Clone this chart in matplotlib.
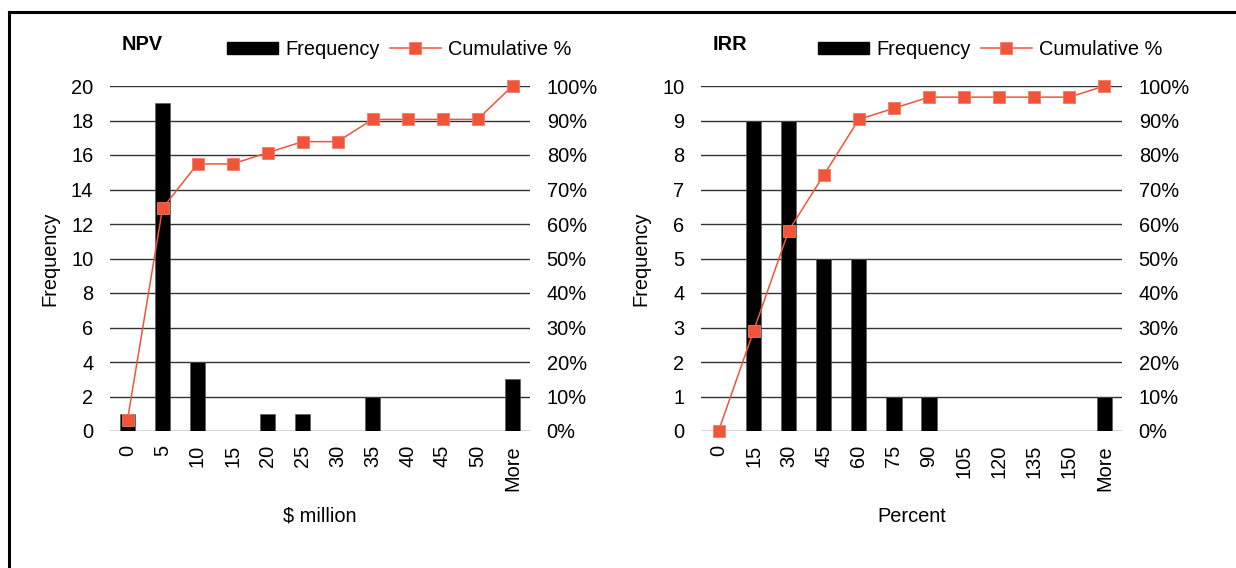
import numpy as np
import matplotlib
matplotlib.use("Agg")
import matplotlib.pyplot as plt
from matplotlib.lines import Line2D
from matplotlib.patches import Patch
from matplotlib.ticker import PercentFormatter, MultipleLocator

plt.rcParams['font.family'] = ['Liberation Sans', 'DejaVu Sans']
plt.rcParams['font.size'] = 14.4

# histogram bins and counts
npv_bins = ['0', '5', '10', '15', '20', '25', '30', '35', '40', '45', '50', 'More']
npv_freq = [1, 19, 4, 0, 1, 1, 0, 2, 0, 0, 0, 3]

irr_bins = ['0', '15', '30', '45', '60', '75', '90', '105', '120', '135', '150', 'More']
irr_freq = [0, 9, 9, 5, 5, 1, 1, 0, 0, 0, 0, 1]

BAR = 'black'
LINE = '#F0553A'
GRID = '#333333'

W, H = 1236, 568
fig = plt.figure(figsize=(W / 100, H / 100), dpi=100)

# outer border (top and left edges only)
fig.add_artist(Line2D([9 / W, 9 / W], [0, 1 - 12 / H], color='black', lw=2.2))
fig.add_artist(Line2D([9 / W, 1], [1 - 12 / H, 1 - 12 / H], color='black', lw=2.2))


def pareto(rect, bins, freq, ymax, ystep, title, xlabel):
    ax = fig.add_axes(rect)
    x = np.arange(len(bins))
    cum = np.cumsum(freq) / np.sum(freq)

    ax.bar(x, freq, width=0.43, color=BAR, edgecolor='#555555', linewidth=0.4, zorder=2)
    ax.set_xlim(-0.5, len(bins) - 0.5)
    ax.set_ylim(0, ymax)
    ax.yaxis.set_major_locator(MultipleLocator(ystep))
    ax.grid(axis='y', color=GRID, lw=1.0)
    ax.set_axisbelow(True)
    for s in ax.spines.values():
        s.set_visible(False)
    ax.set_xticks(x)
    ax.set_xticklabels(bins, rotation=90, va='top', ha='center')
    ax.tick_params(axis='x', length=0, pad=10)
    ax.tick_params(axis='y', length=0, pad=12)
    ax.set_ylabel('Frequency')
    ax.yaxis.set_label_coords(-0.121, 0.5)
    ax.set_xlabel(xlabel)
    ax.xaxis.set_label_coords(0.5, -0.220)

    ax2 = ax.twinx()
    ax2.plot(x, cum, color=LINE, lw=1.1, marker='s', markersize=8.5,
             markeredgecolor='#F47A63', markeredgewidth=0.6, zorder=3, clip_on=False)
    ax2.set_ylim(0, 1)
    ax2.yaxis.set_major_locator(MultipleLocator(0.1))
    ax2.yaxis.set_major_formatter(PercentFormatter(1.0, decimals=0))
    ax2.tick_params(axis='y', length=0, pad=12)
    for s in ax2.spines.values():
        s.set_visible(False)

    ax.text(0.028, 1.12, title, transform=ax.transAxes, fontweight='bold',
            ha='left', va='center', fontsize=14.4)

    handles = [Patch(facecolor=BAR, edgecolor=BAR),
               Line2D([], [], color=LINE, lw=1.1, marker='s', markersize=8.5,
                      markeredgecolor='#F47A63', markeredgewidth=0.6)]
    ax2.legend(handles, ['Frequency', 'Cumulative %'], ncol=2, frameon=False,
               loc='center left', bbox_to_anchor=(0.279, 1.106), borderpad=0,
               handlelength=2.55, handleheight=0.55, handletextpad=0.35,
               columnspacing=0.5, borderaxespad=0)
    return ax


y0 = 1 - 431 / H
h = (431 - 86) / H
pareto([110 / W, y0, 420 / W, h], npv_bins, npv_freq, 20, 2, 'NPV', '$ million')
pareto([701 / W, y0, 421 / W, h], irr_bins, irr_freq, 10, 1, 'IRR', 'Percent')

fig.savefig('out.png', dpi=100)
